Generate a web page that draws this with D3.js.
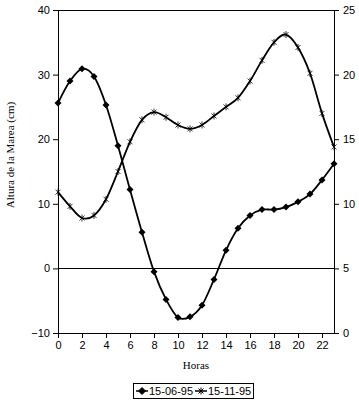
<!DOCTYPE html>
<html>
<head>
<meta charset="utf-8">
<script src="https://cdn.jsdelivr.net/npm/d3@7"></script>
<style>
  body { margin: 0; background: #fff; }
  svg { display: block; }
  .tick text { font-family: "Liberation Sans", Arial, sans-serif; font-size: 11px; fill: #000; }
  .title { font-family: "Liberation Serif", "Times New Roman", serif; font-size: 11px; fill: #000; }
</style>
</head>
<body>
<svg width="359" height="403"></svg>
<script>
// hours 0..23
var horas = d3.range(0, 24);

// 15-06-95, left axis (cm)
var junio = [25.6, 29.0, 30.9, 29.7, 25.3, 19.0, 12.2, 5.6, -0.5, -4.8, -7.6, -7.5,
             -5.7, -1.7, 2.8, 6.2, 8.2, 9.1, 9.1, 9.5, 10.3, 11.5, 13.7, 16.2];

// 15-11-95, right axis
var noviembre = [10.9, 9.8, 8.9, 9.1, 10.35, 12.5, 14.8, 16.5, 17.1, 16.7, 16.1, 15.8,
                 16.1, 16.8, 17.5, 18.2, 19.5, 21.1, 22.5, 23.1, 22.1, 20.1, 17.0, 14.4];

var xTicks = [0, 2, 4, 6, 8, 10, 12, 14, 16, 18, 20, 22];
var leftTicks = [-10, 0, 10, 20, 30, 40];
var rightTicks = [0, 5, 10, 15, 20, 25];
var serieNames = ["15-06-95", "15-11-95"];

var svg = d3.select('svg');
var plotL = 58, plotR = 334, plotT = 10, plotB = 333;

var x = d3.scaleLinear().domain([0, 23]).range([plotL, plotR]);
var yL = d3.scaleLinear().domain([-10, 40]).range([plotB, plotT]);
var yR = d3.scaleLinear().domain([0, 25]).range([plotB, plotT]);

// frame top
svg.append('line')
  .attr('x1', plotL).attr('x2', plotR)
  .attr('y1', plotT + 0.5).attr('y2', plotT + 0.5)
  .attr('stroke', '#000');

// zero line
svg.append('line')
  .attr('x1', plotL).attr('x2', plotR)
  .attr('y1', Math.round(yL(0)) + 0.5).attr('y2', Math.round(yL(0)) + 0.5)
  .attr('stroke', '#000');

var ax = svg.append('g')
  .attr('transform', 'translate(0,' + plotB + ')')
  .call(d3.axisBottom(x).tickValues(xTicks).tickSize(5).tickPadding(3).tickFormat(d3.format('d')));

var axL = svg.append('g')
  .attr('transform', 'translate(' + plotL + ',0)')
  .call(d3.axisLeft(yL).tickValues(leftTicks).tickSize(5).tickPadding(3));

var axR = svg.append('g')
  .attr('transform', 'translate(' + plotR + ',0)')
  .call(d3.axisRight(yR).tickValues(rightTicks).tickSize(5).tickPadding(4));

[ax, axL, axR].forEach(function(g){
  g.select('.domain').attr('stroke', '#000');
  g.selectAll('.tick line').attr('stroke', '#000');
  g.attr('font-family', null).attr('font-size', null);
});
ax.select('.domain').attr('d', 'M' + plotL + ',0.5H' + plotR);

var line1 = d3.line()
  .x(function(d, i){ return x(horas[i]); })
  .y(function(d){ return yL(d); })
  .curve(d3.curveCardinal.tension(0));

var line2 = d3.line()
  .x(function(d, i){ return x(horas[i]); })
  .y(function(d){ return yR(d); })
  .curve(d3.curveCardinal.tension(0));

svg.append('path').datum(junio)
  .attr('d', line1).attr('fill', 'none').attr('stroke', '#000').attr('stroke-width', 1.8);

svg.append('path').datum(noviembre)
  .attr('d', line2).attr('fill', 'none').attr('stroke', '#000').attr('stroke-width', 1.8);

function diamond(s) {
  return 'M0,' + (-s) + 'L' + s + ',0L0,' + s + 'L' + (-s) + ',0Z';
}
function star(s) {
  return 'M' + (-s) + ',' + (-s) + 'L' + s + ',' + s +
         'M' + s + ',' + (-s) + 'L' + (-s) + ',' + s +
         'M0,' + (-s - 1) + 'L0,' + (s + 1);
}

svg.selectAll('.m1').data(junio).enter().append('path')
  .attr('class', 'm1')
  .attr('transform', function(d, i){ return 'translate(' + x(horas[i]) + ',' + yL(d) + ')'; })
  .attr('d', diamond(3.5)).attr('fill', '#000');

svg.selectAll('.m2').data(noviembre).enter().append('path')
  .attr('class', 'm2')
  .attr('transform', function(d, i){ return 'translate(' + x(horas[i]) + ',' + yR(d) + ')'; })
  .attr('d', star(2.5)).attr('fill', 'none').attr('stroke', '#000').attr('stroke-width', 0.8);

// titles
svg.append('text').attr('class', 'title')
  .attr('x', (plotL + plotR) / 2).attr('y', 369)
  .attr('text-anchor', 'middle').text('Horas');

svg.append('text').attr('class', 'title')
  .attr('transform', 'translate(14,155) rotate(-90)')
  .attr('text-anchor', 'middle').text('Altura de la Marea (cm)');

// legend
var lg = svg.append('g').attr('transform', 'translate(133,383)');
lg.append('rect').attr('x', 0.5).attr('y', 0.5).attr('width', 120).attr('height', 15)
  .attr('fill', '#fff').attr('stroke', '#000');

var items = lg.selectAll('.item').data(serieNames).enter().append('g')
  .attr('transform', function(d, i){ return 'translate(' + (3 + i * 59) + ',8)'; });

items.append('line').attr('x1', 0).attr('x2', 12).attr('y1', 0).attr('y2', 0)
  .attr('stroke', '#000').attr('stroke-width', 1.5);
items.append('path').attr('transform', 'translate(6,0)')
  .attr('d', function(d, i){ return i === 0 ? diamond(3.5) : star(2.5); })
  .attr('fill', function(d, i){ return i === 0 ? '#000' : 'none'; })
  .attr('stroke', '#000').attr('stroke-width', 1);
items.append('text')
  .attr('x', 13).attr('y', 4)
  .attr('font-family', '"Liberation Sans", Arial, sans-serif').attr('font-size', 11)
  .text(function(d){ return d; });
</script>
</body>
</html>
